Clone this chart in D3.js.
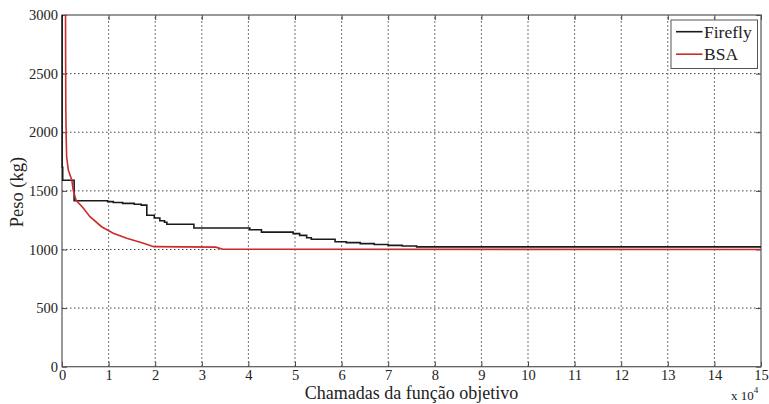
<!DOCTYPE html>
<html><head><meta charset="utf-8">
<script src="https://cdn.jsdelivr.net/npm/d3@7"></script>
<style>body{margin:0;background:#fff;}</style></head>
<body><svg id="chart" width="769" height="404"></svg>
<script>
// x in function calls, y in kg
const xTicks = [0,10000,20000,30000,40000,50000,60000,70000,80000,90000,100000,110000,120000,130000,140000,150000];
const yTicks = [0,500,1000,1500,2000,2500,3000];
const seriesNames = ["Firefly","BSA"];
const fireflyX = [0,50,150,2600,9800,11000,13000,15500,17000,18200,19800,21000,22000,22500,28300,40300,42800,49600,51000,52500,53500,58600,61000,64000,67000,70000,73000,76100,150000];
const fireflyY = [3100,1700,1590,1415,1408,1400,1393,1386,1378,1292,1268,1245,1232,1215,1183,1168,1148,1135,1120,1100,1087,1066,1058,1050,1042,1035,1030,1022,1022];
const bsaX = [750,780,820,900,1000,1350,2100,2400,3000,4600,6000,8500,11000,13900,17500,19700,33000,34500,150000];
const bsaY = [3100,2600,2200,1950,1790,1678,1593,1507,1422,1351,1280,1194,1138,1095,1053,1024,1020,1002,1000];

const FONT = "Liberation Serif";
const svg = d3.select("#chart");
const L=62, R=761, T=15, B=366.7;
const x = d3.scaleLinear().domain([0,150000]).range([L,R]);
const y = d3.scaleLinear().domain([0,3000]).range([B,T]);

// grid
const g = svg.append("g");
g.selectAll(".gx").data(xTicks.slice(1,-1)).enter().append("line")
  .attr("x1",d=>x(d)).attr("x2",d=>x(d)).attr("y1",B).attr("y2",T)
  .attr("stroke","#444").attr("stroke-width",1).attr("stroke-dasharray","1.5,2.5");
g.selectAll(".gy").data(yTicks.slice(1,-1)).enter().append("line")
  .attr("y1",d=>y(d)).attr("y2",d=>y(d)).attr("x1",L).attr("x2",R)
  .attr("stroke","#444").attr("stroke-width",1).attr("stroke-dasharray","1.5,2.5");

// axes
function styleAxis(sel){
  sel.select(".domain").remove();
  sel.selectAll("line").attr("stroke","#444");
  sel.selectAll("text").attr("fill","#222").style("font-family",FONT).style("font-size","14.5px");
}
svg.append("g").attr("transform",`translate(0,${B})`)
  .call(d3.axisBottom(x).tickValues(xTicks).tickSize(-5).tickPadding(3).tickFormat(d=>String(d/10000)))
  .call(styleAxis);
svg.append("g").attr("transform",`translate(0,${T})`)
  .call(d3.axisTop(x).tickValues(xTicks).tickSize(-5).tickFormat(""))
  .call(styleAxis);
svg.append("g").attr("transform",`translate(${L},0)`)
  .call(d3.axisLeft(y).tickValues(yTicks).tickSize(-5).tickPadding(4).tickFormat(d3.format("d")))
  .call(styleAxis);
svg.append("g").attr("transform",`translate(${R},0)`)
  .call(d3.axisRight(y).tickValues(yTicks).tickSize(-5).tickFormat(""))
  .call(styleAxis);

// box
svg.append("rect").attr("x",L).attr("y",T).attr("width",R-L).attr("height",B-T)
  .attr("fill","none").attr("stroke","#555").attr("stroke-width",1.2);

// clip
svg.append("clipPath").attr("id","clip").append("rect")
  .attr("x",L-1).attr("y",T).attr("width",R-L+1).attr("height",B-T);

const lineStep = d3.line().x(d=>x(d[0])).y(d=>y(d[1])).curve(d3.curveStepAfter);
const lineLin = d3.line().x(d=>x(d[0])).y(d=>y(d[1]));
const ffData = fireflyX.map((v,i)=>[v,fireflyY[i]]);
const bsaData = bsaX.map((v,i)=>[v,bsaY[i]]);

svg.append("path").attr("clip-path","url(#clip)").attr("d",lineStep(ffData))
  .attr("fill","none").attr("stroke","#1a1a1a").attr("stroke-width",1.6);
svg.append("path").attr("clip-path","url(#clip)").attr("d",lineLin(bsaData))
  .attr("fill","none").attr("stroke","#cc2b2b").attr("stroke-width",1.6);

// labels
svg.append("text").attr("x",(L+R)/2).attr("y",399).attr("text-anchor","middle").style("font-family",FONT)
  .style("font-size","18px").attr("fill","#222").text("Chamadas da função objetivo");
svg.append("text").attr("transform","translate(23,192) rotate(-90)").attr("text-anchor","middle").style("font-family",FONT)
  .style("font-size","18.5px").attr("fill","#222").text("Peso (kg)");
const ex = svg.append("text").attr("x",731).attr("y",400).style("font-family",FONT).style("font-size","13px").attr("fill","#222");
ex.append("tspan").text("x 10");
ex.append("tspan").attr("dy",-7).style("font-size","9px").text("4");

// legend
const lg = svg.append("g");
lg.append("rect").attr("x",671).attr("y",20).attr("width",86.5).attr("height",48.5)
  .attr("fill","#fff").attr("stroke","#555").attr("stroke-width",1);
const colors = ["#1a1a1a","#cc2b2b"];
seriesNames.forEach((n,i)=>{
  const yy = 31.7 + i*22.5;
  lg.append("line").attr("x1",676).attr("x2",702.5).attr("y1",yy).attr("y2",yy)
    .attr("stroke",colors[i]).attr("stroke-width",1.6);
  lg.append("text").attr("x",704).attr("y",yy+6).style("font-family",FONT).style("font-size","17.5px").attr("fill","#222").text(n);
});
</script></body></html>
